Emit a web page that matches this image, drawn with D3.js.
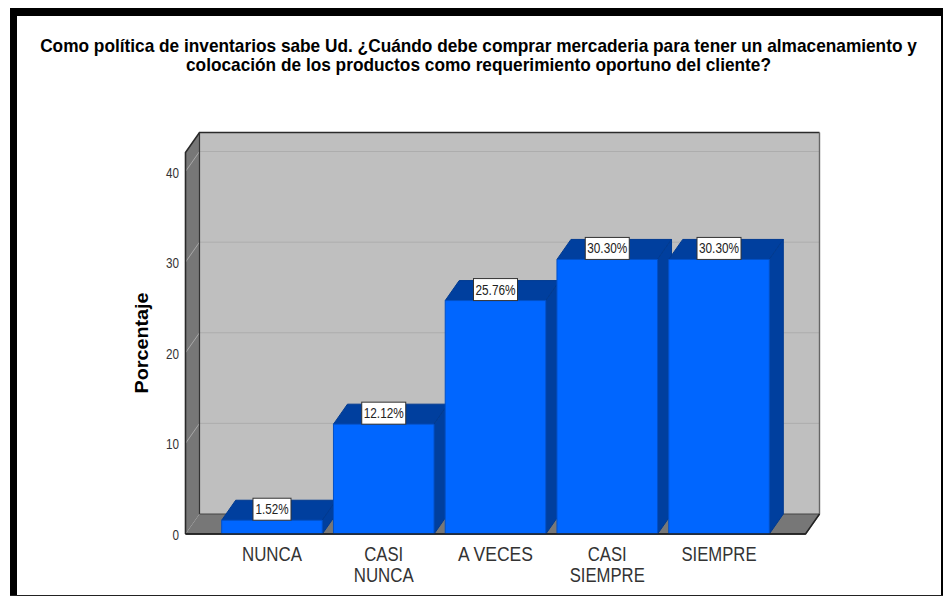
<!DOCTYPE html>
<html><head><meta charset="utf-8">
<script src="https://cdn.jsdelivr.net/npm/d3@7/dist/d3.min.js"></script>
<style>html,body{margin:0;padding:0;background:#fff}svg{display:block}text{font-family:"Liberation Sans",Arial,sans-serif}</style>
</head><body><div id="c"></div>
<script>
const categories=[["NUNCA"],["CASI","NUNCA"],["A VECES"],["CASI","SIEMPRE"],["SIEMPRE"]];
const values=[1.52,12.12,25.76,30.30,30.30];
const labels=["1.52%","12.12%","25.76%","30.30%","30.30%"];
const yTicks=[0,10,20,30,40];
const titleLines=["Como política de inventarios sabe Ud. ¿Cuándo debe comprar mercaderia para tener un almacenamiento y","colocación de los productos como requerimiento oportuno del cliente?"];
const yTitle="Porcentaje";

const W=943,H=596;
const svg=d3.select("#c").append("svg").attr("width",W).attr("height",H);
svg.append("rect").attr("width",W).attr("height",H).attr("fill","#fff");
// frame
svg.append("rect").attr("x",10).attr("y",8).attr("width",933).attr("height",8).attr("fill","#000");
svg.append("rect").attr("x",10).attr("y",8).attr("width",7).attr("height",H-8).attr("fill","#000");
svg.append("rect").attr("x",941).attr("y",8).attr("width",2).attr("height",H-8).attr("fill","#000");
svg.append("rect").attr("x",10).attr("y",595).attr("width",933).attr("height",1).attr("fill","#222");

const x=d3.scaleBand().domain(d3.range(5)).range([221.7,769.3]).paddingInner(0.1).paddingOuter(0);
const y=d3.scaleLinear().domain([0,42.1]).range([534,152.5]);
const dx=14,dy=-20;
const L=185.5,R=805.5,T=y.range()[1],B=534;
const poly=(pts,f,s)=>svg.append("polygon").attr("points",pts.map(p=>p.join(",")).join(" ")).attr("fill",f).attr("stroke",s||"none");
// walls
poly([[L+dx,T+dy],[R+dx,T+dy],[R+dx,B+dy],[L+dx,B+dy]],"#bfbfbf");
poly([[L,T],[L+dx,T+dy],[L+dx,B+dy],[L,B]],"#777");
poly([[L,B],[L+dx,B+dy],[R+dx,B+dy],[R,B]],"#777");
// grid
yTicks.slice(1).forEach(t=>{
  svg.append("line").attr("x1",L+dx).attr("x2",R+dx).attr("y1",y(t)+dy).attr("y2",y(t)+dy).attr("stroke","#adadad");
  svg.append("line").attr("x1",L).attr("x2",L+dx).attr("y1",y(t)).attr("y2",y(t)+dy).attr("stroke","#a8a8a8");
});
// wall edges
svg.append("path").attr("d",`M${L},${B}V${T}L${L+dx},${T+dy}H${R+dx}`).attr("fill","none").attr("stroke","#2a2a2a").attr("stroke-width",1.6);
svg.append("path").attr("d",`M${L+dx},${T+dy}V${B+dy}`).attr("stroke","#333").attr("stroke-width",1.2);
svg.append("path").attr("d",`M${L+dx},${B+dy}H${R+dx}`).attr("stroke","#444");
svg.append("path").attr("d",`M${R+dx},${T+dy}V${B+dy}L${R},${B}`).attr("fill","none").attr("stroke","#666").attr("stroke-width",1.4);
svg.append("path").attr("d",`M${L},${B}H${R}L${R+dx},${B+dy}`).attr("fill","none").attr("stroke","#222").attr("stroke-width",1.4);

// bars
values.forEach((v,i)=>{
  const a=x(i),b=a+x.bandwidth(),t=y(v);
  poly([[a,t],[a+dx,t+dy],[b+dx,t+dy],[b,t]],"#003f9e","#003a90");
  poly([[b,t],[b+dx,t+dy],[b+dx,B+dy],[b,B]],"#003f9e","#003a90");
  poly([[a,t],[b,t],[b,B],[a,B]],"#0066ff","#0050c8");
});
svg.append("path").attr("d",`M${L},${B}H${R}`).attr("stroke","#222").attr("stroke-width",1.4);
// value labels
values.forEach((v,i)=>{
  const cx=x(i)+x.bandwidth()/2,t=y(v);
  const w=i===0?38:44;
  svg.append("rect").attr("x",cx-w/2).attr("y",t-22).attr("width",w).attr("height",22).attr("fill","#fff").attr("stroke","#333");
  svg.append("text").attr("x",cx).attr("y",t-6).attr("text-anchor","middle").attr("font-size",14)
    .attr("textLength",i===0?33:40).attr("lengthAdjust","spacingAndGlyphs").attr("fill","#222").text(labels[i]);
});
// y ticks
yTicks.forEach(t=>{
  svg.append("text").attr("x",179).attr("y",y(t)+6).attr("text-anchor","end").attr("font-size",15)
    .attr("textLength",t===0?6.5:13).attr("lengthAdjust","spacingAndGlyphs").attr("fill","#333").text(t);
});
// category labels
const widths={"NUNCA":60,"CASI":39,"A VECES":75,"SIEMPRE":75};
categories.forEach((c,i)=>{
  const cx=x(i)+x.bandwidth()/2;
  c.forEach((s,j)=>svg.append("text").attr("x",cx).attr("y",561+j*20.5).attr("text-anchor","middle").attr("font-size",20)
    .attr("textLength",widths[s]).attr("lengthAdjust","spacingAndGlyphs").attr("fill","#333").text(s));
});
// y title
svg.append("text").attr("transform","translate(148,343) rotate(-90)").attr("text-anchor","middle")
  .attr("font-size",19).attr("font-weight","bold").attr("textLength",101).attr("lengthAdjust","spacingAndGlyphs").attr("fill","#000").text(yTitle);
// title
svg.append("text").attr("transform","translate(478.5,51.5) scale(1,1.07)").attr("text-anchor","middle").attr("font-size",17.28).attr("font-weight","bold")
  .attr("fill","#000").text(titleLines[0]);
svg.append("text").attr("transform","translate(478.5,71) scale(1,1.07)").attr("text-anchor","middle").attr("font-size",17.28).attr("font-weight","bold")
  .attr("fill","#000").text(titleLines[1]);
</script></body></html>
